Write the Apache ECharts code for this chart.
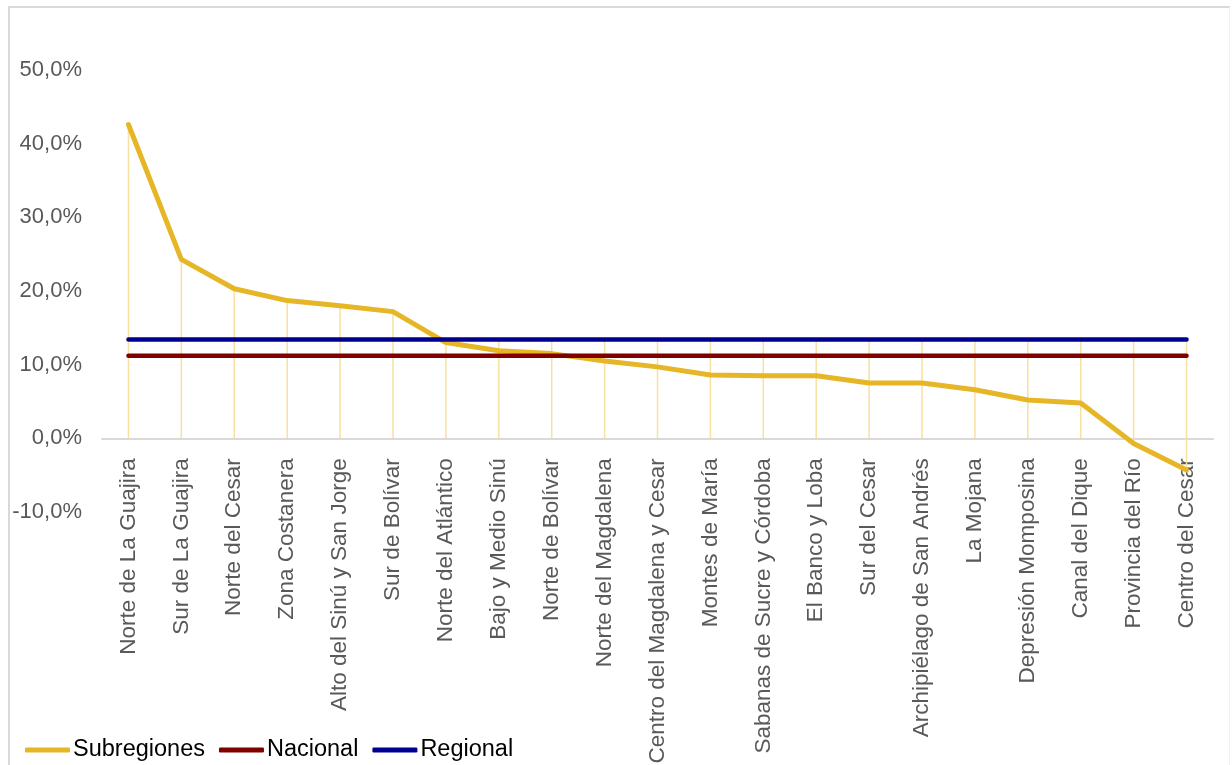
<!DOCTYPE html>
<html>
<head>
<meta charset="utf-8">
<script src="https://cdn.jsdelivr.net/npm/echarts@6/dist/echarts.min.js"></script>
<style>
  html, body { margin: 0; padding: 0; background: #fff; }
  #frame {
    position: absolute; left: 8px; top: 6px; width: 1222px; height: 770px;
    border-top: 2px solid #D9D9D9; border-left: 2px solid #D9D9D9; border-right: 1px solid #F2F2F2;
    box-sizing: border-box;
  }
  #chart { position: absolute; left: 0; top: 0; width: 1232px; height: 765px; }
</style>
</head>
<body>
<div id="frame"></div>
<div id="chart"></div>
<script>
// Subregions, ordered by value
const categories = [
  'Norte de La Guajira', 'Sur de La Guajira', 'Norte del Cesar', 'Zona Costanera',
  'Alto del Sinú y San Jorge', 'Sur de Bolívar', 'Norte del Atlántico', 'Bajo y Medio Sinú',
  'Norte de Bolívar', 'Norte del Magdalena', 'Centro del Magdalena y Cesar', 'Montes de María',
  'Sabanas de Sucre y Córdoba', 'El Banco y Loba', 'Sur del Cesar', 'Archipiélago de San Andrés',
  'La Mojana', 'Depresión Momposina', 'Canal del Dique', 'Provincia del Río', 'Centro del Cesar'
];

// Percent values
const subregiones = [42.6, 24.3, 20.3, 18.7, 18.0, 17.2, 13.0, 11.9, 11.5, 10.5, 9.7,
                     8.6, 8.5, 8.5, 7.5, 7.5, 6.6, 5.2, 4.8, -0.7, -4.3];
const nacional = [11.2, 11.2, 11.2, 11.2, 11.2, 11.2, 11.2, 11.2, 11.2, 11.2, 11.2,
                  11.2, 11.2, 11.2, 11.2, 11.2, 11.2, 11.2, 11.2, 11.2, 11.2];
const regional = [13.4, 13.4, 13.4, 13.4, 13.4, 13.4, 13.4, 13.4, 13.4, 13.4, 13.4,
                  13.4, 13.4, 13.4, 13.4, 13.4, 13.4, 13.4, 13.4, 13.4, 13.4];

const yTicks = { min: -10, max: 50, step: 10 };

const FONT = '"Liberation Sans", Arial, sans-serif';
const GOLD = '#E6B626';
const RED = '#800000';
const NAVY = '#000090';

const CHART_H = 765;
const GRID = { left: 102, right: 19, top: 70, bottom: 253 };
// Category labels hang just under the zero line rather than the bottom of the plot
const pxPerUnit = (CHART_H - GRID.top - GRID.bottom) / (yTicks.max - yTicks.min);
const labelMargin = 20 - (0 - yTicks.min) * pxPerUnit;

// Drop lines: from the highest value in each category down to the axis (or lowest value)
const dropData = categories.map((c, i) => [i,
  Math.max(subregiones[i], nacional[i], regional[i]),
  Math.min(0, subregiones[i], nacional[i], regional[i])]);

const chart = echarts.init(document.getElementById('chart'), null, { renderer: 'canvas' });

chart.setOption({
  animation: false,
  backgroundColor: 'transparent',
  grid: Object.assign({ containLabel: false, outerBoundsMode: 'none' }, GRID),
  legend: {
    data: ['Subregiones', 'Nacional', 'Regional'],
    left: 20, top: 733,
    icon: 'roundRect',
    itemWidth: 45, itemHeight: 5, itemGap: 14,
    textStyle: { fontFamily: FONT, fontSize: 23.5, color: '#000', padding: [0, 0, 0, -2] }
  },
  xAxis: {
    type: 'category',
    data: categories,
    boundaryGap: true,
    axisLine: { onZero: true, lineStyle: { color: '#D9D9D9', width: 2 } },
    axisTick: { show: false },
    axisLabel: {
      interval: 0, rotate: 90, margin: labelMargin,
      fontFamily: FONT, fontSize: 22.5, color: '#595959'
    }
  },
  yAxis: {
    type: 'value',
    min: yTicks.min, max: yTicks.max, interval: yTicks.step,
    axisLine: { show: false },
    axisTick: { show: false },
    splitLine: { show: false },
    axisLabel: {
      margin: 20, fontFamily: FONT, fontSize: 22, color: '#595959',
      padding: [4, 0, 0, 0],
      formatter: v => v.toFixed(1).replace('.', ',') + '%'
    }
  },
  series: [
    {
      name: 'drop',
      type: 'custom',
      silent: true,
      z: 1,
      data: dropData,
      renderItem: (params, api) => {
        const top = api.coord([api.value(0), api.value(1)]);
        const bot = api.coord([api.value(0), api.value(2)]);
        return {
          type: 'line',
          shape: { x1: top[0], y1: top[1], x2: bot[0], y2: bot[1] },
          style: { stroke: '#F7E0A0', lineWidth: 1.5 }
        };
      }
    },
    {
      name: 'Subregiones', type: 'line', data: subregiones, z: 2,
      showSymbol: false, symbol: 'none', color: GOLD,
      lineStyle: { color: GOLD, width: 5, cap: 'round', join: 'round' }
    },
    {
      name: 'Nacional', type: 'line', data: nacional, z: 3,
      showSymbol: false, symbol: 'none', color: RED,
      lineStyle: { color: RED, width: 4.5, cap: 'round' }
    },
    {
      name: 'Regional', type: 'line', data: regional, z: 4,
      showSymbol: false, symbol: 'none', color: NAVY,
      lineStyle: { color: NAVY, width: 4.5, cap: 'round' }
    }
  ]
});
</script>
</body>
</html>
